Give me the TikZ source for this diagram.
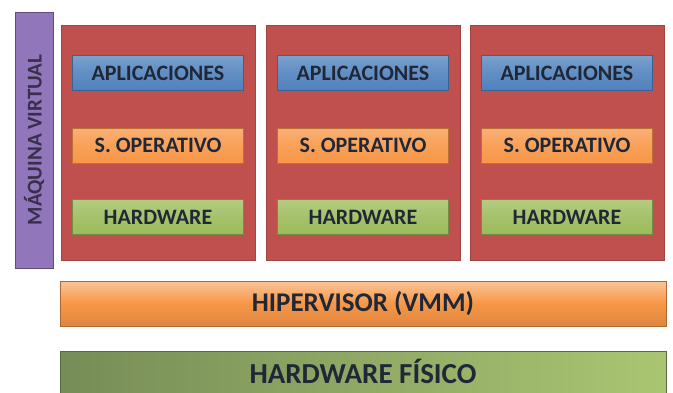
\documentclass[tikz,border=0pt]{standalone}
\usepackage{fontspec}
\setmainfont{Carlito}
\usepackage{tikz}
\definecolor{vmred}{RGB}{192,80,77}
\definecolor{apblue}{RGB}{79,129,189}
\definecolor{soorange}{RGB}{247,150,70}
\definecolor{hwgreen}{RGB}{155,187,89}
\definecolor{mvpurple}{RGB}{145,118,188}
\definecolor{fisgreen}{RGB}{125,148,92}
\definecolor{txtdark}{RGB}{32,40,56}
\tikzset{
  vmbox/.style={fill=vmred, draw=vmred!85!black, line width=0.4pt,
    minimum width=194pt, minimum height=235pt, inner sep=0pt},
  layer/.style={draw=#1!75!black, line width=0.5pt, top color=#1!75!white,
    bottom color=#1, middle color=#1!90!white, minimum width=171pt,
    minimum height=35pt, inner sep=0pt, text=txtdark,
    font=\fontsize{22}{22}\selectfont\bfseries},
  bigbar/.style={draw=#1!70!black, line width=0.6pt, minimum width=606pt,
    inner sep=0pt, text=txtdark},
}
\begin{document}
\begin{tikzpicture}[x=1pt,y=-1pt]
\useasboundingbox[fill=white] (0,0) rectangle (673,392);

% maquina virtual
\node[fill=mvpurple, draw=mvpurple!65!black, minimum width=256pt,
  minimum height=38pt, inner sep=0pt, rotate=90, text=mvpurple!40!black,
  font=\fontsize{21}{21}\selectfont\bfseries] (mv) at (34,140) {MÁQUINA VIRTUAL};

% tres maquinas
\foreach \i/\x in {1/158,2/363,3/567} {
  \node[vmbox] (vm\i) at (\x,142.5) {};
  \node[layer=apblue] (apl\i) at (\x,73) {APLICACIONES};
  \node[layer=soorange] (so\i) at (\x,145.5) {S. OPERATIVO};
  \node[layer=hwgreen] (hw\i) at (\x,217) {HARDWARE};
}

% capas inferiores
\node[bigbar=soorange, minimum height=45pt, top color=soorange!55!white,
  bottom color=soorange!90!black, middle color=soorange,
  font=\fontsize{27}{27}\selectfont\bfseries] (hyp) at (363,303.5) {HIPERVISOR (VMM)};
\node[bigbar=fisgreen, minimum height=47pt, left color=fisgreen!95!black,
  right color=hwgreen!85!white] (fis) at (363,374.5) {};
\node[text=txtdark, inner sep=0pt, font=\fontsize{29}{29}\selectfont\bfseries]
  (fislbl) at (363,371) {HARDWARE FÍSICO};
\end{tikzpicture}
\end{document}
